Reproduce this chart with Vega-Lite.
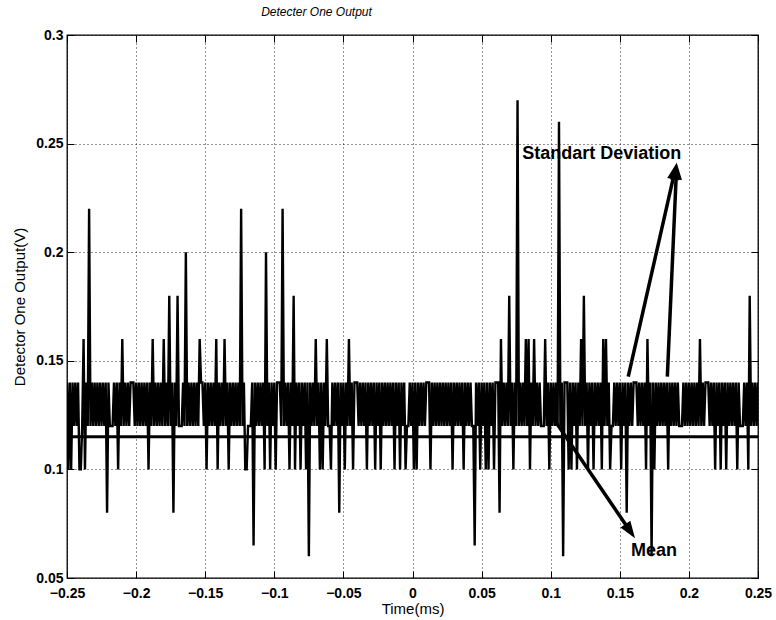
{
"$schema": "https://vega.github.io/schema/vega-lite/v6.json",
"width": 691, "height": 543,
"autosize": "none",
"padding": {"left": 67, "top": 35, "right": 18, "bottom": 42},
"background": "white",
"title": {"text": "Detecter One Output", "font": "Liberation Sans", "fontStyle": "italic", "fontWeight": "normal", "fontSize": 12, "color": "black", "anchor": "middle", "dx": -96, "offset": 9},
"config": {"view": {"stroke": "black", "strokeWidth": 1.3}, "font": "Liberation Sans"},
"datasets": {
"signal": [
{"t":-0.250,"v":0.14},{"t":-0.249,"v":0.10},{"t":-0.248,"v":0.14},{"t":-0.247,"v":0.10},{"t":-0.246,"v":0.14},{"t":-0.245,"v":0.12},{"t":-0.244,"v":0.14},{"t":-0.243,"v":0.12},{"t":-0.242,"v":0.14},{"t":-0.241,"v":0.10},
{"t":-0.240,"v":0.10},{"t":-0.239,"v":0.12},{"t":-0.238,"v":0.16},{"t":-0.237,"v":0.10},{"t":-0.236,"v":0.14},{"t":-0.235,"v":0.12},{"t":-0.234,"v":0.22},{"t":-0.233,"v":0.12},{"t":-0.232,"v":0.14},{"t":-0.231,"v":0.12},
{"t":-0.230,"v":0.14},{"t":-0.229,"v":0.12},{"t":-0.228,"v":0.14},{"t":-0.227,"v":0.12},{"t":-0.226,"v":0.14},{"t":-0.225,"v":0.12},{"t":-0.224,"v":0.14},{"t":-0.223,"v":0.12},{"t":-0.222,"v":0.14},{"t":-0.221,"v":0.08},
{"t":-0.220,"v":0.14},{"t":-0.219,"v":0.12},{"t":-0.218,"v":0.12},{"t":-0.217,"v":0.12},{"t":-0.216,"v":0.14},{"t":-0.215,"v":0.12},{"t":-0.214,"v":0.14},{"t":-0.213,"v":0.10},{"t":-0.212,"v":0.14},{"t":-0.211,"v":0.12},
{"t":-0.210,"v":0.16},{"t":-0.209,"v":0.12},{"t":-0.208,"v":0.14},{"t":-0.207,"v":0.12},{"t":-0.206,"v":0.14},{"t":-0.205,"v":0.12},{"t":-0.204,"v":0.14},{"t":-0.203,"v":0.14},{"t":-0.202,"v":0.14},{"t":-0.201,"v":0.12},
{"t":-0.200,"v":0.14},{"t":-0.199,"v":0.12},{"t":-0.198,"v":0.14},{"t":-0.197,"v":0.12},{"t":-0.196,"v":0.14},{"t":-0.195,"v":0.12},{"t":-0.194,"v":0.14},{"t":-0.193,"v":0.12},{"t":-0.192,"v":0.14},{"t":-0.191,"v":0.10},
{"t":-0.190,"v":0.14},{"t":-0.189,"v":0.12},{"t":-0.188,"v":0.16},{"t":-0.187,"v":0.12},{"t":-0.186,"v":0.14},{"t":-0.185,"v":0.12},{"t":-0.184,"v":0.14},{"t":-0.183,"v":0.12},{"t":-0.182,"v":0.14},{"t":-0.181,"v":0.12},
{"t":-0.180,"v":0.16},{"t":-0.179,"v":0.12},{"t":-0.178,"v":0.14},{"t":-0.177,"v":0.12},{"t":-0.176,"v":0.18},{"t":-0.175,"v":0.12},{"t":-0.174,"v":0.14},{"t":-0.173,"v":0.08},{"t":-0.172,"v":0.14},{"t":-0.171,"v":0.12},
{"t":-0.170,"v":0.18},{"t":-0.169,"v":0.12},{"t":-0.168,"v":0.12},{"t":-0.167,"v":0.12},{"t":-0.166,"v":0.14},{"t":-0.165,"v":0.12},{"t":-0.164,"v":0.20},{"t":-0.163,"v":0.12},{"t":-0.162,"v":0.14},{"t":-0.161,"v":0.12},
{"t":-0.160,"v":0.14},{"t":-0.159,"v":0.12},{"t":-0.158,"v":0.14},{"t":-0.157,"v":0.12},{"t":-0.156,"v":0.14},{"t":-0.155,"v":0.12},{"t":-0.154,"v":0.16},{"t":-0.153,"v":0.14},{"t":-0.152,"v":0.14},{"t":-0.151,"v":0.12},
{"t":-0.150,"v":0.14},{"t":-0.149,"v":0.10},{"t":-0.148,"v":0.14},{"t":-0.147,"v":0.12},{"t":-0.146,"v":0.14},{"t":-0.145,"v":0.12},{"t":-0.144,"v":0.14},{"t":-0.143,"v":0.12},{"t":-0.142,"v":0.16},{"t":-0.141,"v":0.10},
{"t":-0.140,"v":0.14},{"t":-0.139,"v":0.12},{"t":-0.138,"v":0.14},{"t":-0.137,"v":0.12},{"t":-0.136,"v":0.16},{"t":-0.135,"v":0.12},{"t":-0.134,"v":0.14},{"t":-0.133,"v":0.10},{"t":-0.132,"v":0.14},{"t":-0.131,"v":0.12},
{"t":-0.130,"v":0.14},{"t":-0.129,"v":0.12},{"t":-0.128,"v":0.14},{"t":-0.127,"v":0.12},{"t":-0.126,"v":0.14},{"t":-0.125,"v":0.12},{"t":-0.124,"v":0.22},{"t":-0.123,"v":0.12},{"t":-0.122,"v":0.14},{"t":-0.121,"v":0.10},
{"t":-0.120,"v":0.10},{"t":-0.119,"v":0.12},{"t":-0.118,"v":0.12},{"t":-0.117,"v":0.12},{"t":-0.116,"v":0.14},{"t":-0.115,"v":0.065},{"t":-0.114,"v":0.14},{"t":-0.113,"v":0.12},{"t":-0.112,"v":0.14},{"t":-0.111,"v":0.12},
{"t":-0.110,"v":0.14},{"t":-0.109,"v":0.12},{"t":-0.108,"v":0.14},{"t":-0.107,"v":0.10},{"t":-0.106,"v":0.20},{"t":-0.105,"v":0.12},{"t":-0.104,"v":0.14},{"t":-0.103,"v":0.10},{"t":-0.102,"v":0.14},{"t":-0.101,"v":0.12},
{"t":-0.100,"v":0.14},{"t":-0.099,"v":0.10},{"t":-0.098,"v":0.14},{"t":-0.097,"v":0.14},{"t":-0.096,"v":0.14},{"t":-0.095,"v":0.12},{"t":-0.094,"v":0.22},{"t":-0.093,"v":0.12},{"t":-0.092,"v":0.14},{"t":-0.091,"v":0.12},
{"t":-0.090,"v":0.14},{"t":-0.089,"v":0.10},{"t":-0.088,"v":0.14},{"t":-0.087,"v":0.12},{"t":-0.086,"v":0.18},{"t":-0.085,"v":0.10},{"t":-0.084,"v":0.14},{"t":-0.083,"v":0.12},{"t":-0.082,"v":0.14},{"t":-0.081,"v":0.10},
{"t":-0.080,"v":0.14},{"t":-0.079,"v":0.12},{"t":-0.078,"v":0.14},{"t":-0.077,"v":0.10},{"t":-0.076,"v":0.14},{"t":-0.075,"v":0.06},{"t":-0.074,"v":0.14},{"t":-0.073,"v":0.12},{"t":-0.072,"v":0.14},{"t":-0.071,"v":0.12},
{"t":-0.070,"v":0.16},{"t":-0.069,"v":0.12},{"t":-0.068,"v":0.14},{"t":-0.067,"v":0.10},{"t":-0.066,"v":0.14},{"t":-0.065,"v":0.10},{"t":-0.064,"v":0.14},{"t":-0.063,"v":0.12},{"t":-0.062,"v":0.16},{"t":-0.061,"v":0.12},
{"t":-0.060,"v":0.12},{"t":-0.059,"v":0.10},{"t":-0.058,"v":0.14},{"t":-0.057,"v":0.12},{"t":-0.056,"v":0.14},{"t":-0.055,"v":0.12},{"t":-0.054,"v":0.14},{"t":-0.053,"v":0.08},{"t":-0.052,"v":0.14},{"t":-0.051,"v":0.12},
{"t":-0.050,"v":0.14},{"t":-0.049,"v":0.10},{"t":-0.048,"v":0.14},{"t":-0.047,"v":0.12},{"t":-0.046,"v":0.16},{"t":-0.045,"v":0.12},{"t":-0.044,"v":0.14},{"t":-0.043,"v":0.10},{"t":-0.042,"v":0.14},{"t":-0.041,"v":0.14},
{"t":-0.040,"v":0.14},{"t":-0.039,"v":0.12},{"t":-0.038,"v":0.14},{"t":-0.037,"v":0.12},{"t":-0.036,"v":0.14},{"t":-0.035,"v":0.12},{"t":-0.034,"v":0.14},{"t":-0.033,"v":0.10},{"t":-0.032,"v":0.14},{"t":-0.031,"v":0.12},
{"t":-0.030,"v":0.14},{"t":-0.029,"v":0.12},{"t":-0.028,"v":0.14},{"t":-0.027,"v":0.10},{"t":-0.026,"v":0.14},{"t":-0.025,"v":0.12},{"t":-0.024,"v":0.14},{"t":-0.023,"v":0.10},{"t":-0.022,"v":0.14},{"t":-0.021,"v":0.12},
{"t":-0.020,"v":0.14},{"t":-0.019,"v":0.12},{"t":-0.018,"v":0.14},{"t":-0.017,"v":0.12},{"t":-0.016,"v":0.14},{"t":-0.015,"v":0.12},{"t":-0.014,"v":0.14},{"t":-0.013,"v":0.10},{"t":-0.012,"v":0.14},{"t":-0.011,"v":0.12},
{"t":-0.010,"v":0.14},{"t":-0.009,"v":0.10},{"t":-0.008,"v":0.14},{"t":-0.007,"v":0.12},{"t":-0.006,"v":0.14},{"t":-0.005,"v":0.10},{"t":-0.004,"v":0.12},{"t":-0.003,"v":0.12},{"t":-0.002,"v":0.14},{"t":-0.001,"v":0.12},
{"t":0.000,"v":0.14},{"t":0.001,"v":0.10},{"t":0.002,"v":0.14},{"t":0.003,"v":0.10},{"t":0.004,"v":0.14},{"t":0.005,"v":0.12},{"t":0.006,"v":0.14},{"t":0.007,"v":0.12},{"t":0.008,"v":0.14},{"t":0.009,"v":0.12},
{"t":0.010,"v":0.14},{"t":0.011,"v":0.14},{"t":0.012,"v":0.14},{"t":0.013,"v":0.10},{"t":0.014,"v":0.14},{"t":0.015,"v":0.12},{"t":0.016,"v":0.14},{"t":0.017,"v":0.12},{"t":0.018,"v":0.14},{"t":0.019,"v":0.12},
{"t":0.020,"v":0.14},{"t":0.021,"v":0.12},{"t":0.022,"v":0.14},{"t":0.023,"v":0.12},{"t":0.024,"v":0.14},{"t":0.025,"v":0.12},{"t":0.026,"v":0.14},{"t":0.027,"v":0.12},{"t":0.028,"v":0.14},{"t":0.029,"v":0.10},
{"t":0.030,"v":0.14},{"t":0.031,"v":0.12},{"t":0.032,"v":0.14},{"t":0.033,"v":0.12},{"t":0.034,"v":0.14},{"t":0.035,"v":0.12},{"t":0.036,"v":0.14},{"t":0.037,"v":0.10},{"t":0.038,"v":0.14},{"t":0.039,"v":0.12},
{"t":0.040,"v":0.14},{"t":0.041,"v":0.12},{"t":0.042,"v":0.14},{"t":0.043,"v":0.12},{"t":0.044,"v":0.12},{"t":0.045,"v":0.065},{"t":0.046,"v":0.14},{"t":0.047,"v":0.12},{"t":0.048,"v":0.14},{"t":0.049,"v":0.10},
{"t":0.050,"v":0.14},{"t":0.051,"v":0.12},{"t":0.052,"v":0.14},{"t":0.053,"v":0.10},{"t":0.054,"v":0.14},{"t":0.055,"v":0.10},{"t":0.056,"v":0.14},{"t":0.057,"v":0.12},{"t":0.058,"v":0.14},{"t":0.059,"v":0.10},
{"t":0.060,"v":0.14},{"t":0.061,"v":0.14},{"t":0.062,"v":0.14},{"t":0.063,"v":0.08},{"t":0.064,"v":0.16},{"t":0.065,"v":0.12},{"t":0.066,"v":0.14},{"t":0.067,"v":0.12},{"t":0.068,"v":0.14},{"t":0.069,"v":0.12},
{"t":0.070,"v":0.18},{"t":0.071,"v":0.12},{"t":0.072,"v":0.14},{"t":0.073,"v":0.10},{"t":0.074,"v":0.14},{"t":0.075,"v":0.12},{"t":0.076,"v":0.27},{"t":0.077,"v":0.12},{"t":0.078,"v":0.14},{"t":0.079,"v":0.12},
{"t":0.080,"v":0.14},{"t":0.081,"v":0.12},{"t":0.082,"v":0.16},{"t":0.083,"v":0.12},{"t":0.084,"v":0.16},{"t":0.085,"v":0.10},{"t":0.086,"v":0.14},{"t":0.087,"v":0.12},{"t":0.088,"v":0.16},{"t":0.089,"v":0.12},
{"t":0.090,"v":0.14},{"t":0.091,"v":0.12},{"t":0.092,"v":0.14},{"t":0.093,"v":0.12},{"t":0.094,"v":0.12},{"t":0.095,"v":0.12},{"t":0.096,"v":0.16},{"t":0.097,"v":0.12},{"t":0.098,"v":0.14},{"t":0.099,"v":0.10},
{"t":0.100,"v":0.14},{"t":0.101,"v":0.12},{"t":0.102,"v":0.14},{"t":0.103,"v":0.12},{"t":0.104,"v":0.14},{"t":0.105,"v":0.12},{"t":0.106,"v":0.26},{"t":0.107,"v":0.12},{"t":0.108,"v":0.14},{"t":0.109,"v":0.06},
{"t":0.110,"v":0.14},{"t":0.111,"v":0.14},{"t":0.112,"v":0.14},{"t":0.113,"v":0.10},{"t":0.114,"v":0.14},{"t":0.115,"v":0.10},{"t":0.116,"v":0.14},{"t":0.117,"v":0.12},{"t":0.118,"v":0.14},{"t":0.119,"v":0.10},
{"t":0.120,"v":0.14},{"t":0.121,"v":0.12},{"t":0.122,"v":0.16},{"t":0.123,"v":0.12},{"t":0.124,"v":0.18},{"t":0.125,"v":0.12},{"t":0.126,"v":0.14},{"t":0.127,"v":0.10},{"t":0.128,"v":0.14},{"t":0.129,"v":0.12},
{"t":0.130,"v":0.14},{"t":0.131,"v":0.10},{"t":0.132,"v":0.14},{"t":0.133,"v":0.12},{"t":0.134,"v":0.14},{"t":0.135,"v":0.12},{"t":0.136,"v":0.14},{"t":0.137,"v":0.10},{"t":0.138,"v":0.16},{"t":0.139,"v":0.12},
{"t":0.140,"v":0.16},{"t":0.141,"v":0.12},{"t":0.142,"v":0.14},{"t":0.143,"v":0.10},{"t":0.144,"v":0.12},{"t":0.145,"v":0.12},{"t":0.146,"v":0.14},{"t":0.147,"v":0.12},{"t":0.148,"v":0.14},{"t":0.149,"v":0.12},
{"t":0.150,"v":0.14},{"t":0.151,"v":0.10},{"t":0.152,"v":0.14},{"t":0.153,"v":0.12},{"t":0.154,"v":0.14},{"t":0.155,"v":0.08},{"t":0.156,"v":0.14},{"t":0.157,"v":0.12},{"t":0.158,"v":0.14},{"t":0.159,"v":0.12},
{"t":0.160,"v":0.14},{"t":0.161,"v":0.14},{"t":0.162,"v":0.14},{"t":0.163,"v":0.12},{"t":0.164,"v":0.14},{"t":0.165,"v":0.12},{"t":0.166,"v":0.14},{"t":0.167,"v":0.12},{"t":0.168,"v":0.14},{"t":0.169,"v":0.10},
{"t":0.170,"v":0.16},{"t":0.171,"v":0.12},{"t":0.172,"v":0.14},{"t":0.173,"v":0.06},{"t":0.174,"v":0.14},{"t":0.175,"v":0.10},{"t":0.176,"v":0.14},{"t":0.177,"v":0.12},{"t":0.178,"v":0.14},{"t":0.179,"v":0.12},
{"t":0.180,"v":0.14},{"t":0.181,"v":0.12},{"t":0.182,"v":0.14},{"t":0.183,"v":0.12},{"t":0.184,"v":0.14},{"t":0.185,"v":0.10},{"t":0.186,"v":0.14},{"t":0.187,"v":0.12},{"t":0.188,"v":0.14},{"t":0.189,"v":0.12},
{"t":0.190,"v":0.14},{"t":0.191,"v":0.12},{"t":0.192,"v":0.14},{"t":0.193,"v":0.12},{"t":0.194,"v":0.12},{"t":0.195,"v":0.12},{"t":0.196,"v":0.14},{"t":0.197,"v":0.12},{"t":0.198,"v":0.14},{"t":0.199,"v":0.12},
{"t":0.200,"v":0.14},{"t":0.201,"v":0.12},{"t":0.202,"v":0.14},{"t":0.203,"v":0.12},{"t":0.204,"v":0.14},{"t":0.205,"v":0.12},{"t":0.206,"v":0.14},{"t":0.207,"v":0.12},{"t":0.208,"v":0.16},{"t":0.209,"v":0.12},
{"t":0.210,"v":0.14},{"t":0.211,"v":0.12},{"t":0.212,"v":0.14},{"t":0.213,"v":0.14},{"t":0.214,"v":0.14},{"t":0.215,"v":0.12},{"t":0.216,"v":0.14},{"t":0.217,"v":0.12},{"t":0.218,"v":0.14},{"t":0.219,"v":0.10},
{"t":0.220,"v":0.14},{"t":0.221,"v":0.12},{"t":0.222,"v":0.14},{"t":0.223,"v":0.10},{"t":0.224,"v":0.14},{"t":0.225,"v":0.12},{"t":0.226,"v":0.14},{"t":0.227,"v":0.10},{"t":0.228,"v":0.14},{"t":0.229,"v":0.12},
{"t":0.230,"v":0.14},{"t":0.231,"v":0.12},{"t":0.232,"v":0.14},{"t":0.233,"v":0.12},{"t":0.234,"v":0.14},{"t":0.235,"v":0.10},{"t":0.236,"v":0.14},{"t":0.237,"v":0.12},{"t":0.238,"v":0.12},{"t":0.239,"v":0.12},
{"t":0.240,"v":0.14},{"t":0.241,"v":0.12},{"t":0.242,"v":0.14},{"t":0.243,"v":0.10},{"t":0.244,"v":0.18},{"t":0.245,"v":0.12},{"t":0.246,"v":0.14},{"t":0.247,"v":0.12},{"t":0.248,"v":0.14},{"t":0.249,"v":0.12},
{"t":0.250,"v":0.14}
],
"shafts": [
{"x1":0.1561,"y1":0.1427,"x2":0.1896,"y2":0.2367},
{"x1":0.1844,"y1":0.1427,"x2":0.1909,"y2":0.2366},
{"x1":0.1017,"y1":0.1237,"x2":0.1569,"y2":0.0721}
],
"labels": [
{"x":0.1369,"y":0.2452,"text":"Standart Deviation"},
{"x":0.1747,"y":0.0626,"text":"Mean"}
]
},
"layer": [
{
"data": {"name": "signal"},
"mark": {"type": "line", "color": "black", "strokeWidth": 2.4, "clip": true},
"encoding": {
"x": {"field": "t", "type": "quantitative", "scale": {"domain": [-0.25, 0.25], "nice": false, "zero": false},
 "axis": {"orient": "bottom", "values": [-0.25,-0.2,-0.15,-0.1,-0.05,0,0.05,0.1,0.15,0.2,0.25], "format": "~g", "title": "Time(ms)",
  "grid": true, "gridDash": [1,3], "gridColor": "black", "gridOpacity": 0.85, "gridWidth": 1,
  "domain": false, "ticks": true, "tickSize": -7, "tickColor": "black", "tickWidth": 1,
  "labelPadding": 15, "labelFlush": false, "labelOverlap": false, "labelFont": "Liberation Sans", "labelFontSize": 14, "labelFontWeight": "bold", "labelColor": "black",
  "titleFont": "Liberation Sans", "titleFontSize": 15, "titleFontWeight": "normal", "titleColor": "black", "titleY": 30, "titleBaseline": "middle"}},
"y": {"field": "v", "type": "quantitative", "scale": {"domain": [0.05, 0.3], "nice": false, "zero": false},
 "axis": {"orient": "left", "values": [0.05,0.1,0.15,0.2,0.25,0.3], "format": "~g", "title": "Detector One Output(V)",
  "grid": true, "gridDash": [1,3], "gridColor": "black", "gridOpacity": 0.85, "gridWidth": 1,
  "domain": false, "ticks": true, "tickSize": -7, "tickColor": "black", "tickWidth": 1,
  "labelPadding": 11, "labelFlush": false, "labelOverlap": false, "labelFont": "Liberation Sans", "labelFontSize": 14, "labelFontWeight": "bold", "labelColor": "black",
  "titleFont": "Liberation Sans", "titleFontSize": 15, "titleFontWeight": "normal", "titleColor": "black", "titleX": -48, "titleBaseline": "middle"}}
}
},
{
"data": {"values": [{"mean": 0.115}]},
"mark": {"type": "rule", "color": "black", "strokeWidth": 3},
"encoding": {
"y": {"field": "mean", "type": "quantitative", "scale": {"domain": [0.05, 0.3], "nice": false, "zero": false}, "axis": null}
}
},
{
"data": {"name": "shafts"},
"mark": {"type": "rule", "color": "black", "strokeWidth": 3.5, "strokeCap": "butt"},
"encoding": {
"x": {"field": "x1", "type": "quantitative", "scale": {"domain": [-0.25, 0.25], "nice": false, "zero": false},
 "axis": {"orient": "top", "values": [-0.25,-0.2,-0.15,-0.1,-0.05,0,0.05,0.1,0.15,0.2,0.25], "labels": false, "grid": false, "domain": false, "title": null, "tickSize": -7, "tickColor": "black", "tickWidth": 1}},
"y": {"field": "y1", "type": "quantitative", "scale": {"domain": [0.05, 0.3], "nice": false, "zero": false},
 "axis": {"orient": "right", "values": [0.05,0.1,0.15,0.2,0.25,0.3], "labels": false, "grid": false, "domain": false, "title": null, "tickSize": -7, "tickColor": "black", "tickWidth": 1}},
"x2": {"field": "x2"},
"y2": {"field": "y2"}
}
},
{
"data": {"values": [{"x": 0.1912, "y": 0.2412}]},
"mark": {"type": "point", "shape": "M0,0L0.35,1L-0.35,1Z", "filled": true, "color": "black", "opacity": 1, "size": 1156, "angle": 12.7},
"encoding": {
"x": {"field": "x", "type": "quantitative", "scale": {"domain": [-0.25, 0.25], "nice": false, "zero": false}, "axis": null},
"y": {"field": "y", "type": "quantitative", "scale": {"domain": [0.05, 0.3], "nice": false, "zero": false}, "axis": null}
}
},
{
"data": {"values": [{"x": 0.1912, "y": 0.2412}]},
"mark": {"type": "point", "shape": "M0,0L0.35,1L-0.35,1Z", "filled": true, "color": "black", "opacity": 1, "size": 1156, "angle": 2.5},
"encoding": {
"x": {"field": "x", "type": "quantitative", "scale": {"domain": [-0.25, 0.25], "nice": false, "zero": false}, "axis": null},
"y": {"field": "y", "type": "quantitative", "scale": {"domain": [0.05, 0.3], "nice": false, "zero": false}, "axis": null}
}
},
{
"data": {"values": [{"x": 0.161, "y": 0.0683}]},
"mark": {"type": "point", "shape": "M0,0L0.35,1L-0.35,1Z", "filled": true, "color": "black", "opacity": 1, "size": 1156, "angle": 145.7},
"encoding": {
"x": {"field": "x", "type": "quantitative", "scale": {"domain": [-0.25, 0.25], "nice": false, "zero": false}, "axis": null},
"y": {"field": "y", "type": "quantitative", "scale": {"domain": [0.05, 0.3], "nice": false, "zero": false}, "axis": null}
}
},
{
"data": {"name": "labels"},
"mark": {"type": "text", "font": "Liberation Sans", "fontSize": 18, "fontWeight": "bold", "color": "black", "align": "center", "baseline": "middle"},
"encoding": {
"x": {"field": "x", "type": "quantitative", "scale": {"domain": [-0.25, 0.25], "nice": false, "zero": false}, "axis": null},
"y": {"field": "y", "type": "quantitative", "scale": {"domain": [0.05, 0.3], "nice": false, "zero": false}, "axis": null},
"text": {"field": "text", "type": "nominal"}
}
}
]
}
